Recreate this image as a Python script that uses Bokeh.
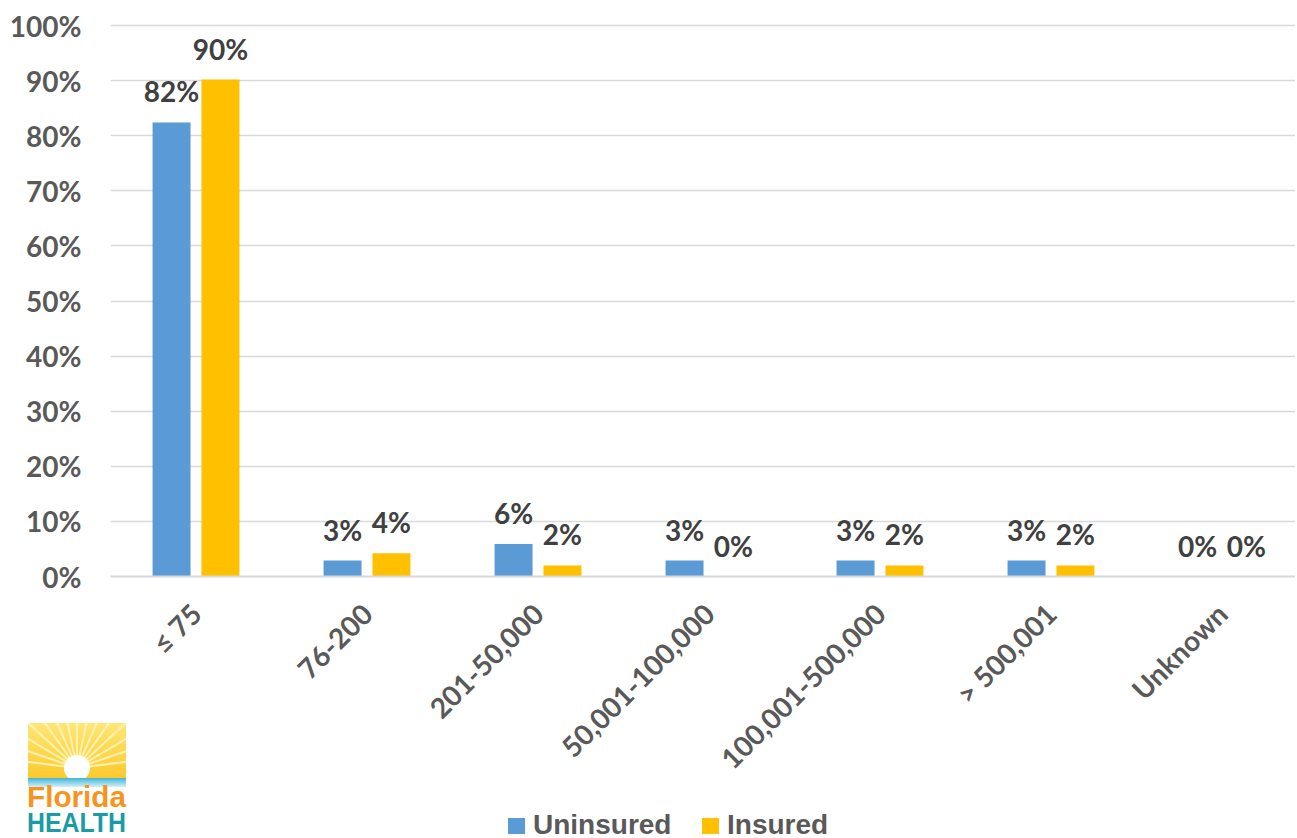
import numpy as np
from bokeh.plotting import figure
from bokeh.models import (ColumnDataSource, Range1d, FixedTicker, PrintfTickFormatter,
                          LabelSet, Div, GridBox)
from bokeh.core.properties import value
from bokeh.transform import dodge
from bokeh.embed import file_html
from bokeh.resources import INLINE

# ---- data ----
categories = ["≤ 75", "76-200", "201-50,000", "50,001-100,000",
              "100,001-500,000", "> 500,001", "Unknown"]
uninsured = [82.4, 2.9, 5.9, 2.9, 2.9, 2.9, 0.0]
insured = [90.2, 4.2, 2.0, 0.0, 2.0, 2.0, 0.0]
series_names = ["Uninsured", "Insured"]
y_ticks = list(range(0, 101, 10))

BLUE = "#5B9BD5"
GOLD = "#FFC000"
GRID = "#D9D9D9"
TXT = "#595959"
LBL = "#404040"
FONT = "Lato"
FS = "28px"
WIDTH, HEIGHT = 1295, 836
FRAME_LEFT, FRAME_BOTTOM = 110, 576

xs = list(range(len(categories)))
src = ColumnDataSource(dict(
    x=xs, uninsured=uninsured, insured=insured,
    ulab=[f"{round(v)}%" for v in uninsured],
    ilab=[f"{round(v)}%" for v in insured],
))

p = figure(width=WIDTH, height=HEIGHT,
           x_range=Range1d(-0.5, -0.5 + (WIDTH - FRAME_LEFT) / 171.0),
           y_range=Range1d(0, 100.91),
           output_backend="svg", toolbar_location=None,
           min_border_left=FRAME_LEFT, min_border_right=0,
           min_border_top=20, min_border_bottom=HEIGHT - FRAME_BOTTOM)
p.outline_line_color = None
p.background_fill_color = "white"
p.border_fill_color = "white"

OFF = 0.143
W = 0.222
p.vbar(x=dodge("x", -OFF, range=p.x_range), top="uninsured", width=W,
       source=src, fill_color=BLUE, line_color=None)
p.vbar(x=dodge("x", OFF, range=p.x_range), top="insured", width=W,
       source=src, fill_color=GOLD, line_color=None)

for col, lab, off in (("uninsured", "ulab", -OFF), ("insured", "ilab", OFF)):
    p.add_layout(LabelSet(x=dodge("x", off, range=p.x_range), y=col, text=lab, source=src,
                          text_align="center", text_baseline="alphabetic", y_offset=20,
                          text_font=value(FONT), text_font_style="bold",
                          text_font_size=FS, text_color=LBL))

# axes
p.xaxis.ticker = FixedTicker(ticks=xs)
p.xaxis.major_label_overrides = {i: c for i, c in zip(xs, categories)}
p.xaxis.major_label_orientation = np.pi / 4
p.xaxis.major_tick_line_color = None
p.xaxis.minor_tick_line_color = None
p.xaxis.axis_line_color = GRID
p.xaxis.axis_line_width = 2
p.xaxis.major_label_standoff = 26
p.xaxis.major_label_text_font = FONT
p.xaxis.major_label_text_font_style = "bold"
p.xaxis.major_label_text_font_size = FS
p.xaxis.major_label_text_color = TXT
p.xgrid.grid_line_color = None

p.yaxis.ticker = FixedTicker(ticks=y_ticks)
p.yaxis.formatter = PrintfTickFormatter(format="%d%%")
p.yaxis.axis_line_color = None
p.yaxis.major_tick_line_color = None
p.yaxis.minor_tick_line_color = None
p.yaxis.major_label_standoff = 23
p.yaxis.major_label_text_font = FONT
p.yaxis.major_label_text_font_style = "bold"
p.yaxis.major_label_text_font_size = FS
p.yaxis.major_label_text_color = TXT
p.ygrid.ticker = FixedTicker(ticks=y_ticks)
p.ygrid.grid_line_color = GRID
p.ygrid.grid_line_width = 1.5

# ---- overlay: legend + Florida HEALTH logo (outside the plot frame) ----
LEG_Y = 829           # text baseline of legend row
leg_items = [(series_names[0], BLUE, 503), (series_names[1], GOLD, 697)]
leg_svg = "".join(
    f'<rect x="{lx}" y="{LEG_Y - 16}" width="17" height="16" fill="{c}"/>'
    f'<text x="{lx + 25}" y="{LEG_Y}" font-family="Lato" font-weight="bold" '
    f'font-size="28" fill="{TXT}">{name}</text>'
    for name, c, lx in leg_items)

L, R, T, B = 23, 121, 718, 773
cx, cy, rs = 72, 763, 13
rays = []
for ang in np.linspace(np.pi * 0.04, np.pi * 0.96, 15):
    rays.append(f'<line x1="{cx}" y1="{cy}" x2="{cx + 150 * np.cos(ang):.1f}" '
                f'y2="{cy - 150 * np.sin(ang):.1f}" stroke="#FFF6B8" stroke-width="2.2" '
                f'stroke-opacity="0.85"/>')
overlay_svg = f'''
<svg xmlns="http://www.w3.org/2000/svg" width="{WIDTH}" height="{HEIGHT}"
     style="position:absolute;left:0;top:0;pointer-events:none">
  <defs>
    <linearGradient id="sky" x1="0" y1="0" x2="0" y2="1">
      <stop offset="0" stop-color="#FFE676"/>
      <stop offset="1" stop-color="#FDC92E"/>
    </linearGradient>
    <linearGradient id="sea" x1="0" y1="0" x2="0" y2="1">
      <stop offset="0" stop-color="#3DB5DA"/>
      <stop offset="1" stop-color="#D4F0F6"/>
    </linearGradient>
    <clipPath id="box"><rect x="{L}" y="{T}" width="{R - L}" height="{B - T}"/></clipPath>
  </defs>
  <rect x="{L}" y="{T}" width="{R - L}" height="{B - T}" fill="url(#sky)"/>
  <g clip-path="url(#box)">
    {''.join(rays)}
    <circle cx="{cx}" cy="{cy}" r="{rs}" fill="white"/>
  </g>
  <rect x="{L}" y="{B}" width="{R - L}" height="9" fill="url(#sea)"/>
  <text x="{L - 1}" y="802" font-family="Lato" font-weight="bold" font-size="30"
        fill="#F7941D" textLength="{R - L + 1}" lengthAdjust="spacingAndGlyphs">Florida</text>
  <text x="{L - 1}" y="827" font-family="Lato" font-weight="bold" font-size="27"
        fill="#1A9BA5" textLength="{R - L + 1}" lengthAdjust="spacingAndGlyphs">HEALTH</text>
  {leg_svg}
</svg>'''
overlay = Div(text=overlay_svg, width=WIDTH, height=HEIGHT,
              styles={"pointer-events": "none", "position": "relative"})

layout = GridBox(children=[(p, 0, 0), (overlay, 0, 0)])
open("out.html", "w").write(file_html(layout, INLINE))
